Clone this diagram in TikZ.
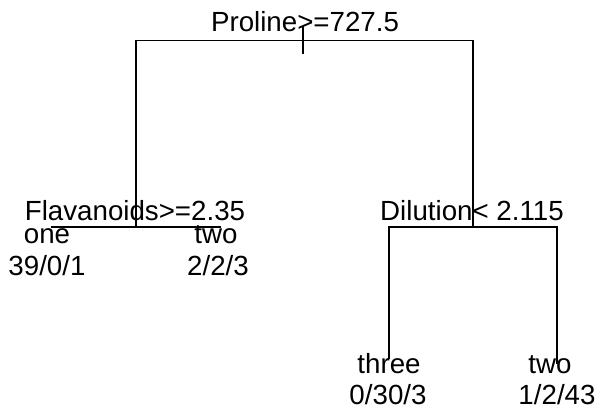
\documentclass[tikz,border=0pt]{standalone}
\usepackage{fontspec}
\setmainfont{Liberation Sans}
\begin{document}
\begin{tikzpicture}[x=1pt,y=-1pt,
  lbl/.style={inner sep=0pt, anchor=base, font=\fontsize{27.7}{30}\selectfont},
  edge/.style={line width=1.4pt, line cap=rect}]
\useasboundingbox (0,0) rectangle (597,409);
% tree points
\coordinate (rtop) at (303,27);
\coordinate (rbot) at (303,53);
\coordinate (rl) at (136,40.5);
\coordinate (rr) at (473,40.5);
\coordinate (L) at (136,227);
\coordinate (Ll) at (52,227);
\coordinate (Lr) at (220,227);
\coordinate (R) at (473,227);
\coordinate (Rl) at (389,227);
\coordinate (Rr) at (557,227);
\coordinate (RlL) at (389,358);
\coordinate (RrL) at (557,363);
% branches
\draw[edge] (rtop) -- (rbot);
\draw[edge] (L) -- (rl) -- (rr) -- (R);
\draw[edge] (Ll) -- (Lr);
\draw[edge] (RlL) -- (Rl) -- (Rr) -- (RrL);
% labels
\node[lbl] (root) at (305,32) {Proline>=727.5};
\node[lbl] (flav) at (135,220) {Flavanoids>=2.35};
\node[lbl] (dil) at (472,220) {Dilution< 2.115};
\node[lbl] (one) at (47,243) {one};
\node[lbl] (onec) at (47,275) {39/0/1};
\node[lbl] (twoA) at (216,243) {two};
\node[lbl] (twoAc) at (218,275) {2/2/3};
\node[lbl] (three) at (389,373) {three};
\node[lbl] (threec) at (388,404) {0/30/3};
\node[lbl] (twoB) at (550,373) {two};
\node[lbl] (twoBc) at (557,404) {1/2/43};
\end{tikzpicture}
\end{document}
